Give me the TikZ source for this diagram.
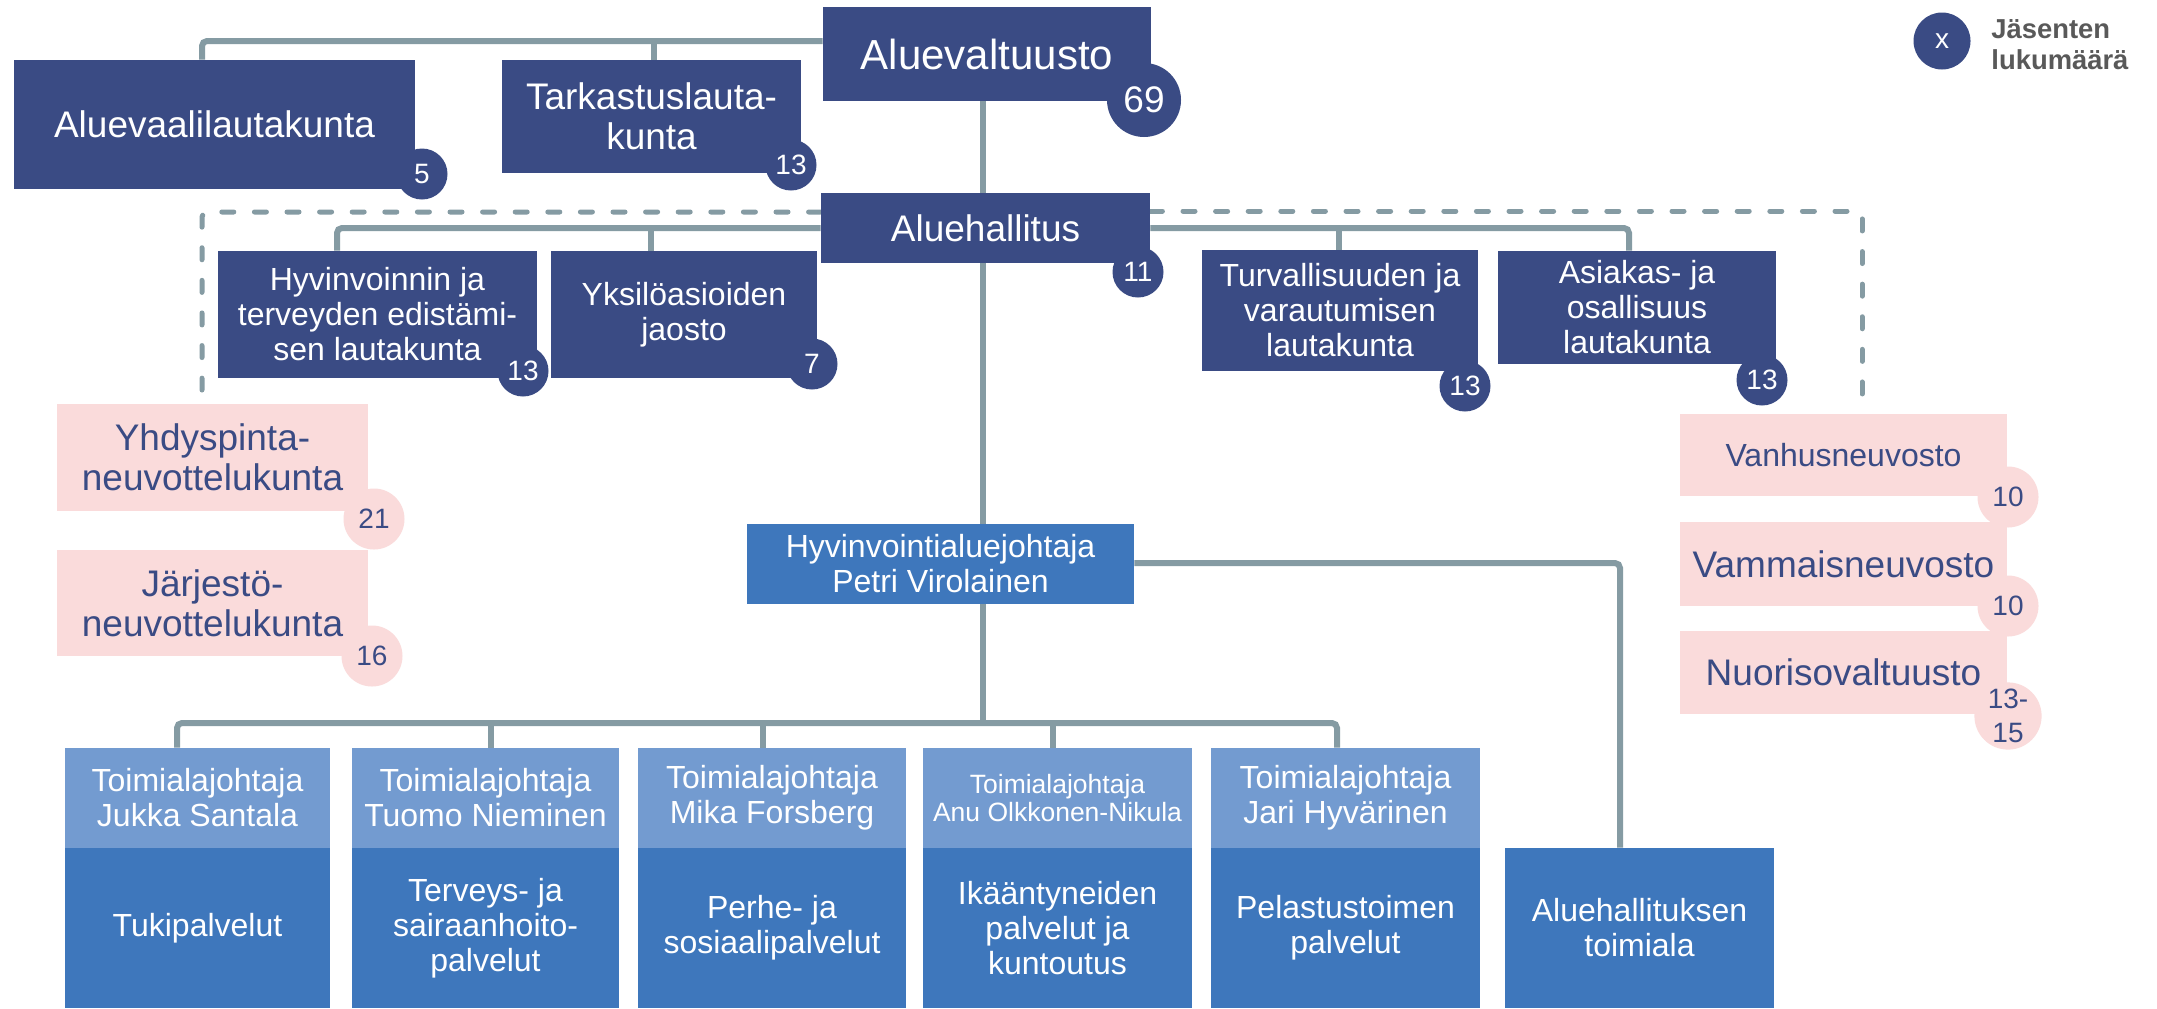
\documentclass[tikz,border=0pt]{standalone}
\usepackage{fontspec}
\setmainfont{Liberation Sans}
\usetikzlibrary{backgrounds}
\definecolor{navy}{RGB}{58,75,132}
\definecolor{pinkbg}{RGB}{250,219,219}
\definecolor{linegray}{RGB}{133,155,163}
\definecolor{hdrblue}{RGB}{115,155,208}
\definecolor{midblue}{RGB}{62,119,188}
\definecolor{legendgray}{RGB}{89,89,89}
\newcommand\fszA{\fontsize{21pt}{24pt}\selectfont}
\newcommand\fszB{\fontsize{18.5pt}{20pt}\selectfont}
\newcommand\fszC{\fontsize{16pt}{17.5pt}\selectfont}
\newcommand\fszD{\fontsize{14pt}{17pt}\selectfont}
\newcommand\fszE{\fontsize{13.25pt}{14.25pt}\selectfont}
\newcommand\fszL{\fontsize{13.7pt}{15.5pt}\selectfont\bfseries}
\tikzset{
 basebox/.style={rectangle, inner sep=0pt, align=center},
 navybox/.style={basebox, fill=navy, text=white},
 pinkbox/.style={basebox, fill=pinkbg, text=navy},
 hdrbox/.style={basebox, fill=hdrblue, text=white, font=\fszC, minimum height=50pt},
 bodybox/.style={basebox, fill=midblue, text=white, font=\fszC, minimum height=80pt},
 navybadge/.style={circle, inner sep=0pt, fill=navy, text=white, minimum size=25.5pt, font=\fszD},
 pinkbadge/.style={circle, inner sep=0pt, fill=pinkbg, text=navy, minimum size=30.5pt, font=\fszD},
 conn/.style={draw=linegray, line width=3pt, rounded corners=2.5pt},
 dashconn/.style={draw=linegray, line width=2.5pt, line cap=round, dash pattern=on 6pt off 10.3pt, rounded corners=2.5pt},
}
\begin{document}
\begin{tikzpicture}[x=0.5pt, y=-0.5pt]
\useasboundingbox (0,0) rectangle (2157,1008);

% top level
\node[navybox, font=\fszA, minimum width=164pt, minimum height=47pt] (av) at (987,54) {Aluevaltuusto};
\node[navybox, font=\fszB, minimum width=200.5pt, minimum height=64.5pt] (avl) at (214.5,124.5) {Aluevaalilautakunta};
\node[navybox, font=\fszB, minimum width=149.5pt, minimum height=56.5pt] (tark) at (651.5,116.5) {Tarkastuslauta-\\kunta};
\node[navybox, font=\fszB, minimum width=164.5pt, minimum height=35pt] (ah) at (985.5,228) {Aluehallitus};

% board subordinates
\node[navybox, font=\fszC, minimum width=159.5pt, minimum height=63.5pt] (hyv) at (377.5,314.5) {Hyvinvoinnin ja\\terveyden edistämi-\\sen lautakunta};
\node[navybox, font=\fszC, minimum width=133pt, minimum height=63.5pt] (yks) at (684,314.5) {Yksilöasioiden\\jaosto};
\node[navybox, font=\fszC, minimum width=138pt, minimum height=60.5pt] (turv) at (1340,310.5) {Turvallisuuden ja\\varautumisen\\lautakunta};
\node[navybox, font=\fszC, minimum width=139pt, minimum height=56.5pt] (asi) at (1637,307.5) {Asiakas- ja\\osallisuus\\lautakunta};

% pink boxes
\node[pinkbox, font=\fszB, minimum width=155.5pt, minimum height=53.5pt] (yhd) at (212.5,457.5) {Yhdyspinta-\\neuvottelukunta};
\node[pinkbox, font=\fszB, minimum width=155.5pt, minimum height=53pt] (jar) at (212.5,603) {Järjestö-\\neuvottelukunta};
\node[pinkbox, font=\fszC, minimum width=163.5pt, minimum height=41pt] (van) at (1843.5,455) {Vanhusneuvosto};
\node[pinkbox, font=\fszB, minimum width=163.5pt, minimum height=42pt] (vam) at (1843.5,564) {Vammaisneuvosto};
\node[pinkbox, font=\fszB, minimum width=163.5pt, minimum height=41.5pt] (nuo) at (1843.5,672.5) {Nuorisovaltuusto};

% director
\node[basebox, fill=midblue, text=white, font=\fszC, minimum width=193.5pt, minimum height=40pt] (hvj) at (940.5,564) {Hyvinvointialuejohtaja\\Petri Virolainen};

% divisions
\node[hdrbox, minimum width=132.5pt] (h1) at (197.5,798) {Toimialajohtaja\\Jukka Santala};
\node[bodybox, minimum width=132.5pt] (p1) at (197.5,928) {Tukipalvelut};
\node[hdrbox, minimum width=133.5pt] (h2) at (485.5,798) {Toimialajohtaja\\Tuomo Nieminen};
\node[bodybox, minimum width=133.5pt] (p2) at (485.5,928) {Terveys- ja\\sairaanhoito-\\palvelut};
\node[hdrbox, minimum width=134pt] (h3) at (772,798) {Toimialajohtaja\\Mika Forsberg};
\node[bodybox, minimum width=134pt] (p3) at (772,928) {Perhe- ja\\sosiaalipalvelut};
\node[hdrbox, font=\fszE, minimum width=134.5pt] (h4) at (1057.5,798) {Toimialajohtaja\\Anu Olkkonen-Nikula};
\node[bodybox, minimum width=134.5pt] (p4) at (1057.5,928) {Ikääntyneiden\\palvelut ja\\kuntoutus};
\node[hdrbox, minimum width=134.5pt] (h5) at (1345.5,798) {Toimialajohtaja\\Jari Hyvärinen};
\node[bodybox, minimum width=134.5pt] (p5) at (1345.5,928) {Pelastustoimen\\palvelut};
\node[bodybox, minimum width=134.5pt] (aht) at (1639.5,928) {Aluehallituksen\\toimiala};

% badges
\node[navybadge, minimum size=37pt, font=\fszB] (b69) at (1144,100) {69};
\node[navybadge] (b5) at (422,174) {5};
\node[navybadge] (b13t) at (791,165) {13};
\node[navybadge] (b11) at (1138,272) {11};
\node[navybadge] (b13h) at (523,371) {13};
\node[navybadge] (b7) at (812,364) {7};
\node[navybadge] (b13v) at (1465,386) {13};
\node[navybadge] (b13a) at (1762,380) {13};
\node[pinkbadge] (b21) at (374,519) {21};
\node[pinkbadge] (b16) at (372,656) {16};
\node[pinkbadge] (b10a) at (2008,497) {10};
\node[pinkbadge] (b10b) at (2008,606) {10};
\node[pinkbadge, align=center] (b1315) at (2008,716) {13-\\15};

% legend
\node[circle, fill=navy, text=white, minimum size=28.5pt, inner sep=0pt, font=\fszD] (legc) at (1942,41) {x};
\node[anchor=west, inner sep=0pt, align=left, text=legendgray, font=\fszL] (legt) at (1991,45) {Jäsenten\\lukumäärä};

% coordinates
\coordinate (trunk) at (983,0);
\coordinate (topbar) at (202,41);
\coordinate (tarkdrop) at (654,41);
\coordinate (hl) at (337,228);
\coordinate (yksdrop) at (651,228);
\coordinate (hr) at (1629,228);
\coordinate (turvdrop) at (1339,228);
\coordinate (dl) at (202,212);
\coordinate (dlend) at (202,390);
\coordinate (dr) at (1862,211);
\coordinate (drend) at (1862,398);
\coordinate (bus) at (0,723);
\coordinate (bl) at (177,723);
\coordinate (br) at (1337,723);
\coordinate (d2) at (491,723);
\coordinate (d3) at (763,723);
\coordinate (d4) at (1053,723);
\coordinate (ar) at (1620,563);

\begin{scope}[on background layer]
\fill[white] (0,0) rectangle (2157,1008);
\draw[conn] (av.west |- topbar) -- (topbar) -- (topbar |- avl.north);
\draw[conn] (tarkdrop) -- (tarkdrop |- tark.north);
\draw[conn] (av.south -| trunk) -- (ah.north -| trunk);
\draw[conn] (ah.west |- hl) -- (hl) -- (hl |- hyv.north);
\draw[conn] (yksdrop) -- (yksdrop |- yks.north);
\draw[conn] (ah.east |- hr) -- (hr) -- (hr |- asi.north);
\draw[conn] (turvdrop) -- (turvdrop |- turv.north);
\draw[dashconn] (ah.west |- dl) -- (dl) -- (dlend);
\draw[dashconn] (ah.east |- dr) -- (dr) -- (drend);
\draw[conn] (ah.south -| trunk) -- (hvj.north -| trunk);
\draw[conn] (hvj.south -| trunk) -- (bus -| trunk);
\draw[conn] (bl |- h1.north) -- (bl) -- (br) -- (br |- h5.north);
\draw[conn] (d2) -- (d2 |- h2.north);
\draw[conn] (d3) -- (d3 |- h3.north);
\draw[conn] (d4) -- (d4 |- h4.north);
\draw[conn] (hvj.east |- ar) -- (ar) -- (ar |- aht.north);
\end{scope}
\end{tikzpicture}
\end{document}
